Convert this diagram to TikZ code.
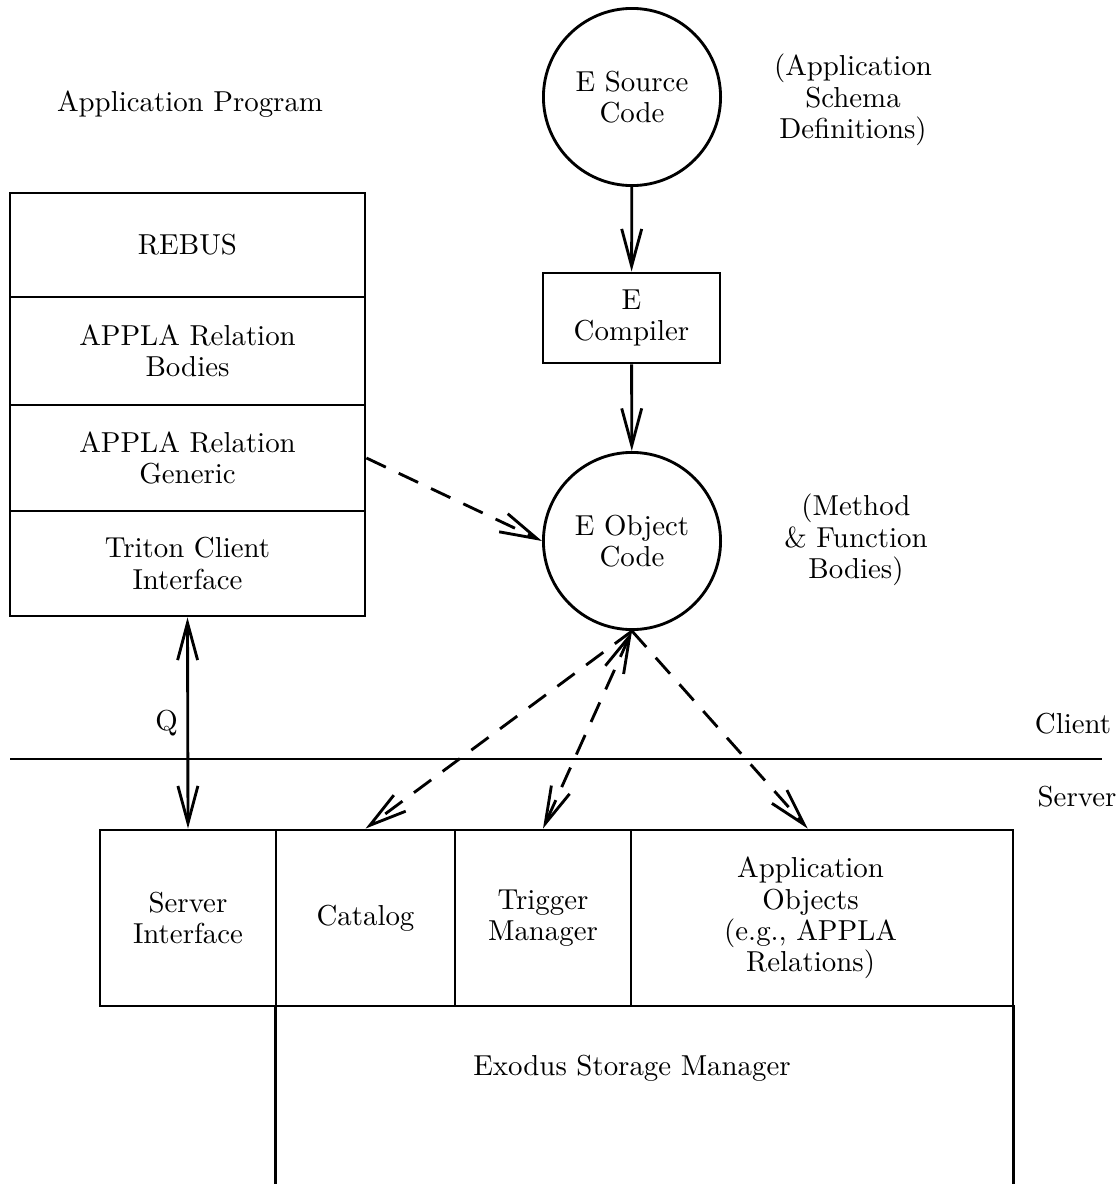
\documentclass[tikz,border=0pt]{standalone}
\usetikzlibrary{arrows.meta,fit,calc}
\begin{document}
\begin{tikzpicture}[x=0.35pt,y=-0.35pt,
  every node/.style={font=\fontsize{10.1pt}{11pt}\selectfont, align=center},
  cell/.style={draw, line width=1pt, inner sep=0pt},
  bubble/.style={draw, circle, line width=1pt, minimum size=62pt, inner sep=0pt},
  conn/.style={line width=1pt, -{Straight Barb[length=13pt,width=7pt]}},
  dconn/.style={conn, dash pattern=on 7.5pt off 5pt},
  plain/.style={inner sep=0pt}]
\useasboundingbox (0,0) rectangle (1120,1184);

% left labels
\node[plain] (appprog) at (190,104) {Application Program};

% client stack
\node[cell, fit={(10,193)(365,297)}] (rebus) {};
\node[cell, fit={(10,297)(365,405)}] (bodies) {};
\node[cell, fit={(10,405)(365,511)}] (generic) {};
\node[cell, fit={(10,511)(365,616)}] (triton) {};
\node[plain] (rebust) at (rebus.center) {REBUS};
\node[plain] (bodiest) at (bodies.center) {APPLA Relation\\Bodies};
\node[plain] (generict) at (generic.center) {APPLA Relation\\Generic};
\node[plain] (tritont) at (triton.center) {Triton Client\\Interface};

% E pipeline
\node[bubble] (esrc) at (632,97) {E Source\\Code};
\node[cell, fit={(543,273)(720,363)}] (ecomp) {};
\node[plain] (ecompt) at (ecomp.center) {E\\Compiler};
\node[bubble] (eobj) at (632,541) {E Object\\Code};

\node[plain] (schema) at (853,100) {(Application\\Schema\\Definitions)};
\node[plain] (method) at (856,540) {(Method\\\&~Function\\Bodies)};

% client/server divider
\coordinate (divl) at (10,759);
\coordinate (divr) at (1102,759);
\draw[line width=1pt] (divl) -- (divr);
\node[plain] (client) at (1073,724) {Client};
\node[plain] (server) at (1077,797) {Server};

% server boxes
\node[cell, fit={(100,830)(276,1006)}] (srvif) {};
\node[cell, fit={(276,830)(455,1006)}] (catalog) {};
\node[cell, fit={(455,830)(631,1006)}] (trigger) {};
\node[cell, fit={(631,830)(1013,1006)}] (appobj) {};
\node[plain] (srvift) at (srvif.center) {Server\\Interface};
\node[plain] (catalogt) at (catalog.center) {Catalog};
\node[plain] (triggert) at (trigger.center) {Trigger\\Manager};
\node[plain] (appobjt) at ([xshift=-4]appobj.center) {Application\\Objects\\(e.g., APPLA\\Relations)};
\node[plain, fit={(276,1006)(1013,1184)}] (exodus) {};
\node[plain] (exodustxt) at (632,1068) {Exodus Storage Manager};
\draw[line width=1pt] (exodus.north west) -- (exodus.south west);
\draw[line width=1pt] (exodus.north east) -- (exodus.south east);

% connectors
\draw[conn] (esrc) -- (ecomp);
\draw[conn] (ecomp) -- (eobj);
\draw[dconn] (generic.east) -- (eobj.west);
\draw[conn, {Straight Barb[length=13pt,width=7pt]}-{Straight Barb[length=13pt,width=7pt]}] (triton.south) -- node[plain, left=3pt, pos=0.5] (q) {Q} (srvif.north);
\coordinate (aotop) at ($(appobj.north west)!0.463!(appobj.north east)$);
\draw[dconn] (eobj.south) -- (catalog.north);
\draw[dconn, {Straight Barb[length=13pt,width=7pt]}-{Straight Barb[length=13pt,width=7pt]}] (eobj.south) -- (trigger.north);
\draw[dconn] (eobj.south) -- (aotop);
\end{tikzpicture}
\end{document}
